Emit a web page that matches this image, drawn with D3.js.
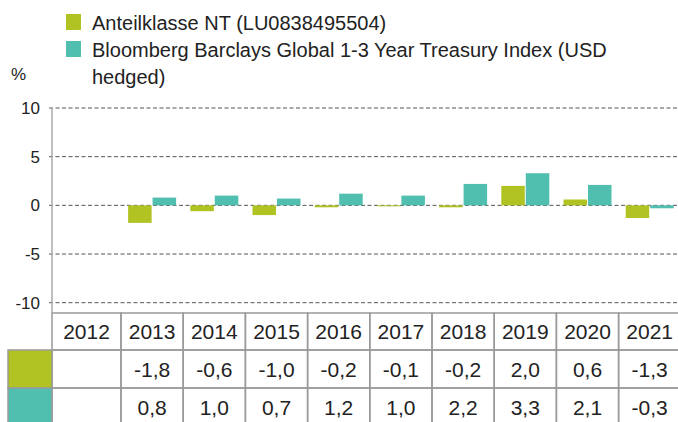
<!DOCTYPE html>
<html>
<head>
<meta charset="utf-8">
<script src="https://cdn.jsdelivr.net/npm/d3@7"></script>
<style>
  body { margin: 0; background: #fff; }
  svg { display: block; font-family: "Liberation Sans", Arial, sans-serif; }
  .grid line { stroke: #555; stroke-width: 1; stroke-dasharray: 4 2.5; }
  .tick-label { font-size: 17px; fill: #222; }
  .cell { fill: none; stroke: #9a9a9a; stroke-width: 1.5; }
  .cell-text { font-size: 21px; fill: #222; }
  .legend-text { font-size: 20px; fill: #222; }
</style>
</head>
<body>
<svg id="chart" width="678" height="422"></svg>
<script>
// Donnees.
const years = ["2012", "2013", "2014", "2015", "2016", "2017", "2018", "2019", "2020", "2021"];
const fundValues = [null, -1.8, -0.6, -1.0, -0.2, -0.1, -0.2, 2.0, 0.6, -1.3];
const indexValues = [null, 0.8, 1.0, 0.7, 1.2, 1.0, 2.2, 3.3, 2.1, -0.3];
const yTicks = [10, 5, 0, -5, -10];
const seriesNames = [
    ["Anteilklasse NT (LU0838495504)"],
    ["Bloomberg Barclays Global 1-3 Year Treasury Index (USD", "hedged)"]
];
const seriesColors = ["#b0c323", "#50bfaf"];

const svg = d3.select("#chart");
const axisX = 52;

// Axe vertical en pourcentage.
const y = d3.scaleLinear().domain([-10, 10]).range([302.7, 108]);

// Colonnes du tableau : la premiere colonne commence a l'axe.
const x = d3.scaleBand().domain(years).range([58.8, 680.8]).paddingInner(0);
const inner = d3.scaleBand().domain([0, 1]).range([-24, 24]).paddingInner(0.04);

// Lignes de grille pointillees.
svg.append("g").attr("class", "grid")
    .selectAll("line")
    .data(yTicks)
    .enter()
    .append("line")
    .attr("x1", axisX - 3)
    .attr("x2", 678)
    .attr("y1", function(d) { return y(d); })
    .attr("y2", function(d) { return y(d); });

svg.append("line")
    .attr("x1", axisX).attr("x2", axisX)
    .attr("y1", y(10)).attr("y2", 313)
    .attr("stroke", "#aaa").attr("stroke-width", 1.5);

svg.selectAll(".tick-label")
    .data(yTicks)
    .enter()
    .append("text")
    .attr("class", "tick-label")
    .attr("x", 40)
    .attr("y", function(d) { return y(d); })
    .attr("dy", "0.35em")
    .attr("text-anchor", "end")
    .text(function(d) { return d; });

svg.append("text").attr("class", "tick-label")
    .attr("x", 11).attr("y", 80).text("%");

// Barres des deux series.
[fundValues, indexValues].forEach(function(values, s) {
    svg.append("g")
        .selectAll("rect")
        .data(years.map(function(yr, i) { return { year: yr, value: values[i] }; })
            .filter(function(d) { return d.value !== null; }))
        .enter()
        .append("rect")
        .attr("fill", seriesColors[s])
        .attr("x", function(d) { return x(d.year) + x.bandwidth() / 2 + inner(s); })
        .attr("width", inner.bandwidth())
        .attr("y", function(d) { return y(Math.max(0, d.value)); })
        .attr("height", function(d) { return Math.abs(y(d.value) - y(0)); });
});

// Legende.
seriesNames.forEach(function(lines, s) {
    const top = 14 + s * 27;
    svg.append("rect")
        .attr("x", 66).attr("y", top)
        .attr("width", 15).attr("height", 16)
        .attr("fill", seriesColors[s]);
    lines.forEach(function(line, k) {
        svg.append("text").attr("class", "legend-text")
            .attr("x", 92).attr("y", top + 16 + k * 26.5)
            .text(line);
    });
});

// Tableau des valeurs.
const rowTop = [313, 350, 388];
const rowHeight = [37, 38, 40];
const table = svg.append("g");

function cellLeft(yr) {
    return yr === years[0] ? axisX : x(yr);
}
function cellWidth(yr) {
    return x(yr) + x.bandwidth() - cellLeft(yr);
}

rowTop.forEach(function(top, r) {
    table.selectAll(".row" + r)
        .data(years)
        .enter()
        .append("rect")
        .attr("class", "cell")
        .attr("x", cellLeft)
        .attr("y", top)
        .attr("width", cellWidth)
        .attr("height", rowHeight[r]);
});

// Cases de couleur a gauche.
seriesColors.forEach(function(color, s) {
    table.append("rect")
        .attr("class", "cell")
        .attr("x", 8).attr("y", rowTop[s + 1])
        .attr("width", axisX - 8).attr("height", rowHeight[s + 1])
        .style("fill", color);
});

function fmt(v) {
    return v === null ? "" : d3.format(".1f")(v).replace(".", ",").replace("−", "-");
}

const rowData = [years, fundValues.map(fmt), indexValues.map(fmt)];
const baselines = [339, 377, 415];
rowData.forEach(function(values, r) {
    table.selectAll(".txt" + r)
        .data(values)
        .enter()
        .append("text")
        .attr("class", "cell-text")
        .attr("text-anchor", "middle")
        .attr("x", function(d, i) {
            const yr = years[i];
            return cellLeft(yr) + cellWidth(yr) / 2;
        })
        .attr("y", baselines[r])
        .text(function(d) { return d; });
});
</script>
</body>
</html>
